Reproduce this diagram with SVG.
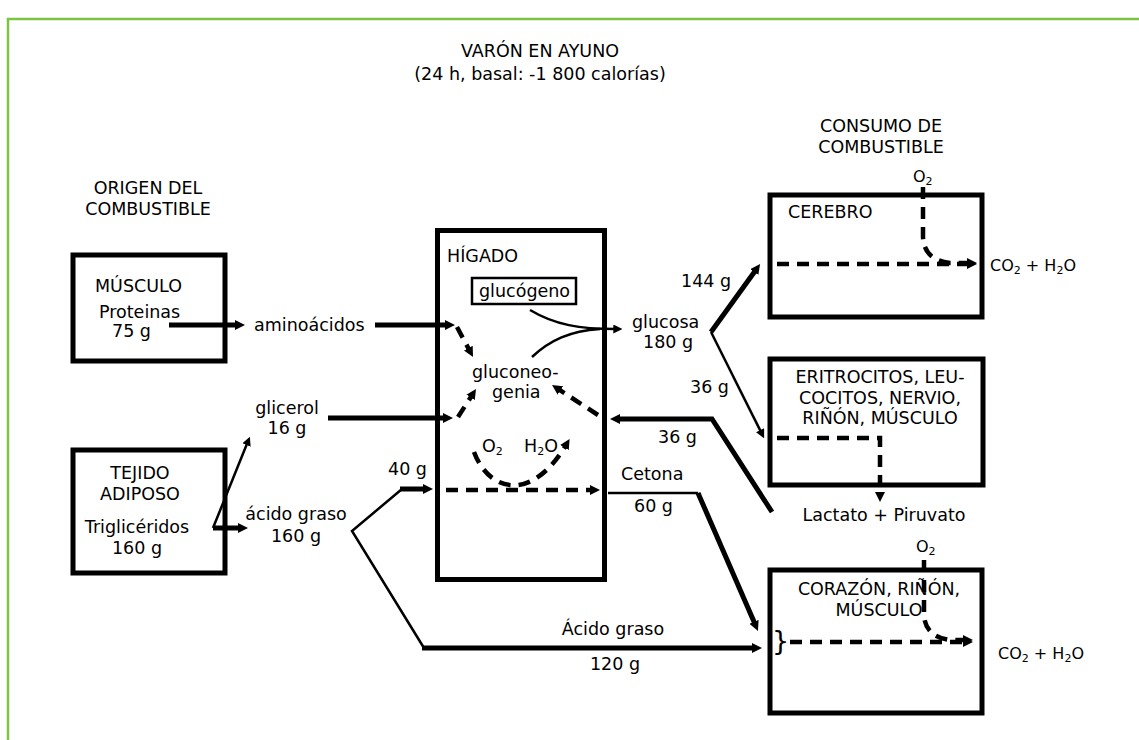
<svg xmlns="http://www.w3.org/2000/svg" width="1139" height="740" viewBox="0 0 1139 740">
<style>
  text { font-family: "DejaVu Sans", Verdana, sans-serif; font-size: 17.5px; fill: #000; }
  .c { text-anchor: middle; }
  .sm { font-size: 16px; }
  .brace { font-size: 27px; }
  .box { fill: #fff; stroke: #000; stroke-width: 5; }
  .thick { fill: none; stroke: #000; stroke-width: 5; }
  .thin { fill: none; stroke: #000; stroke-width: 2.5; }
  .dash { fill: none; stroke: #000; stroke-width: 4.5; stroke-dasharray: 12 8; }
</style>
<defs>
  <marker id="ah" viewBox="0 0 10 10" refX="3" refY="5" markerWidth="10" markerHeight="10" markerUnits="userSpaceOnUse" orient="auto">
    <path d="M0,0 L10,5 L0,10 z" fill="#000"/>
  </marker>
  <marker id="ahs" viewBox="0 0 10 10" refX="3" refY="5" markerWidth="9" markerHeight="9" markerUnits="userSpaceOnUse" orient="auto">
    <path d="M0,0 L10,5 L0,10 z" fill="#000"/>
  </marker>
</defs>
<rect width="1139" height="740" fill="#fff"/>
<path d="M8,760 V19 H1160" fill="none" stroke="#7cc443" stroke-width="2.5"/>

<g id="title">
  <text x="540" y="57" class="c">VARÓN EN AYUNO</text>
  <text x="540" y="80" class="c">(24 h, basal: -1 800 calorías)</text>
</g>
<g id="origen">
  <text x="148" y="194" class="c">ORIGEN DEL</text>
  <text x="148" y="215" class="c">COMBUSTIBLE</text>
</g>
<g id="consumo">
  <text x="881" y="132" class="c">CONSUMO DE</text>
  <text x="881" y="153" class="c">COMBUSTIBLE</text>
</g>

<g id="musculo">
  <rect class="box" x="73" y="255" width="152" height="106"/>
  <text x="95" y="292">MÚSCULO</text>
  <text x="99" y="318">Proteinas</text>
  <text x="112" y="337">75 g</text>
</g>
<g id="tejido">
  <rect class="box" x="73" y="450" width="152" height="123"/>
  <text x="140" y="479" class="c">TEJIDO</text>
  <text x="140" y="500" class="c">ADIPOSO</text>
  <text x="137" y="533" class="c">Triglicéridos</text>
  <text x="137" y="554" class="c">160 g</text>
</g>
<g id="higado">
  <rect class="box" x="437.5" y="230.5" width="167" height="349"/>
  <text x="447" y="262">HÍGADO</text>
  <text x="472" y="378">gluconeo-</text>
  <text x="492" y="398">genia</text>
  <text x="482" y="452">O<tspan font-size="11" dy="3">2</tspan></text>
  <text x="524" y="452">H<tspan font-size="11" dy="3">2</tspan><tspan dy="-3">O</tspan></text>
</g>
<g id="glucogeno">
  <rect x="472" y="278" width="104" height="26" fill="#fff" stroke="#000" stroke-width="2.5"/>
  <text x="479" y="297">glucógeno</text>
</g>
<g id="cerebro">
  <rect class="box" x="770" y="195" width="212" height="122"/>
  <text x="788" y="218">CEREBRO</text>
</g>
<g id="eritrocitos">
  <rect class="box" x="770" y="359" width="213" height="126"/>
  <text x="880" y="383" class="c">ERITROCITOS, LEU-</text>
  <text x="880" y="404" class="c">COCITOS, NERVIO,</text>
  <text x="880" y="424" class="c">RIÑÓN, MÚSCULO</text>
</g>
<g id="corazon">
  <rect class="box" x="770" y="570" width="212" height="143"/>
  <text x="879" y="595" class="c">CORAZÓN, RIÑÓN,</text>
  <text x="879" y="616" class="c">MÚSCULO</text>
  <text x="772" y="650" class="brace">}</text>
</g>

<g id="labels">
  <text x="254" y="331">aminoácidos</text>
  <text x="287" y="414" class="c">glicerol</text>
  <text x="287" y="434" class="c">16 g</text>
  <text x="296" y="520" class="c">ácido graso</text>
  <text x="296" y="542" class="c">160 g</text>
  <text x="388" y="475">40 g</text>
  <text x="632" y="328">glucosa</text>
  <text x="643" y="348">180 g</text>
  <text x="681" y="287">144 g</text>
  <text x="690" y="393">36 g</text>
  <text x="658" y="443">36 g</text>
  <text x="621" y="480">Cetona</text>
  <text x="634" y="512">60 g</text>
  <text x="613" y="635" class="c">Ácido graso</text>
  <text x="615" y="670" class="c">120 g</text>
  <text x="884" y="521" class="c">Lactato + Piruvato</text>
  <text x="913" y="182" class="sm">O<tspan font-size="11" dy="3">2</tspan></text>
  <text x="916" y="552" class="sm">O<tspan font-size="11" dy="3">2</tspan></text>
  <text x="990" y="271" class="sm">CO<tspan font-size="11" dy="3">2</tspan><tspan dy="-3"> + H</tspan><tspan font-size="11" dy="3">2</tspan><tspan dy="-3">O</tspan></text>
  <text x="998" y="659" class="sm">CO<tspan font-size="11" dy="3">2</tspan><tspan dy="-3"> + H</tspan><tspan font-size="11" dy="3">2</tspan><tspan dy="-3">O</tspan></text>
</g>

<g id="connectors">
  <path class="thick" d="M169,325 H238" marker-end="url(#ah)"/>
  <path class="thick" d="M375,325 H448" marker-end="url(#ah)"/>
  <path class="thick" d="M328,418 H446" marker-end="url(#ah)"/>
  <path class="thin" d="M213,528 L247.5,442.5" marker-end="url(#ahs)"/>
  <path class="thick" d="M213,528 H241" marker-end="url(#ah)"/>
  <path class="thin" d="M402,489 L352,531 L424,648"/>
  <path class="thick" d="M400,489 H426" marker-end="url(#ah)"/>
  <path class="thick" d="M422,648 H755" marker-end="url(#ah)"/>
  <path class="dash" d="M457,327 L469.7,350.8" marker-end="url(#ah)"/>
  <path class="dash" d="M458,417 L472.2,394.9" marker-end="url(#ah)"/>
  <path class="dash" d="M598,415 L557.9,388.8" marker-end="url(#ah)"/>
  <path class="dash" d="M474,452 C488,490 530,505 566,445" marker-end="url(#ah)"/>
  <path class="dash" d="M446,490 H593" marker-end="url(#ah)"/>
  <path class="thin" d="M530,310 C555,325 580,329 616,329" marker-end="url(#ahs)"/>
  <path class="thin" d="M532,357 C550,340 570,331 600,329"/>
  <path class="thick" d="M711,332 L756,269.7" marker-end="url(#ah)"/>
  <path class="thin" d="M711,332 L761.3,432.6" marker-end="url(#ahs)"/>
  <path class="thick" d="M772,512 L712,419 H617" marker-end="url(#ah)"/>
  <path class="thin" d="M608,493 H698"/>
  <path class="thick" d="M698,493 L755.2,624.6" marker-end="url(#ah)"/>
  <path class="dash" d="M923,187 V237 Q924,260 950,263 H970" marker-end="url(#ah)"/>
  <path class="dash" d="M777,264 H970" marker-end="url(#ah)"/>
  <path class="dash" d="M777,438 H880 V495" marker-end="url(#ah)"/>
  <path class="dash" d="M924,560 V616 Q926,637 950,640 H966" marker-end="url(#ah)"/>
  <path class="dash" d="M790,642 H966" marker-end="url(#ah)"/>
</g>
</svg>
